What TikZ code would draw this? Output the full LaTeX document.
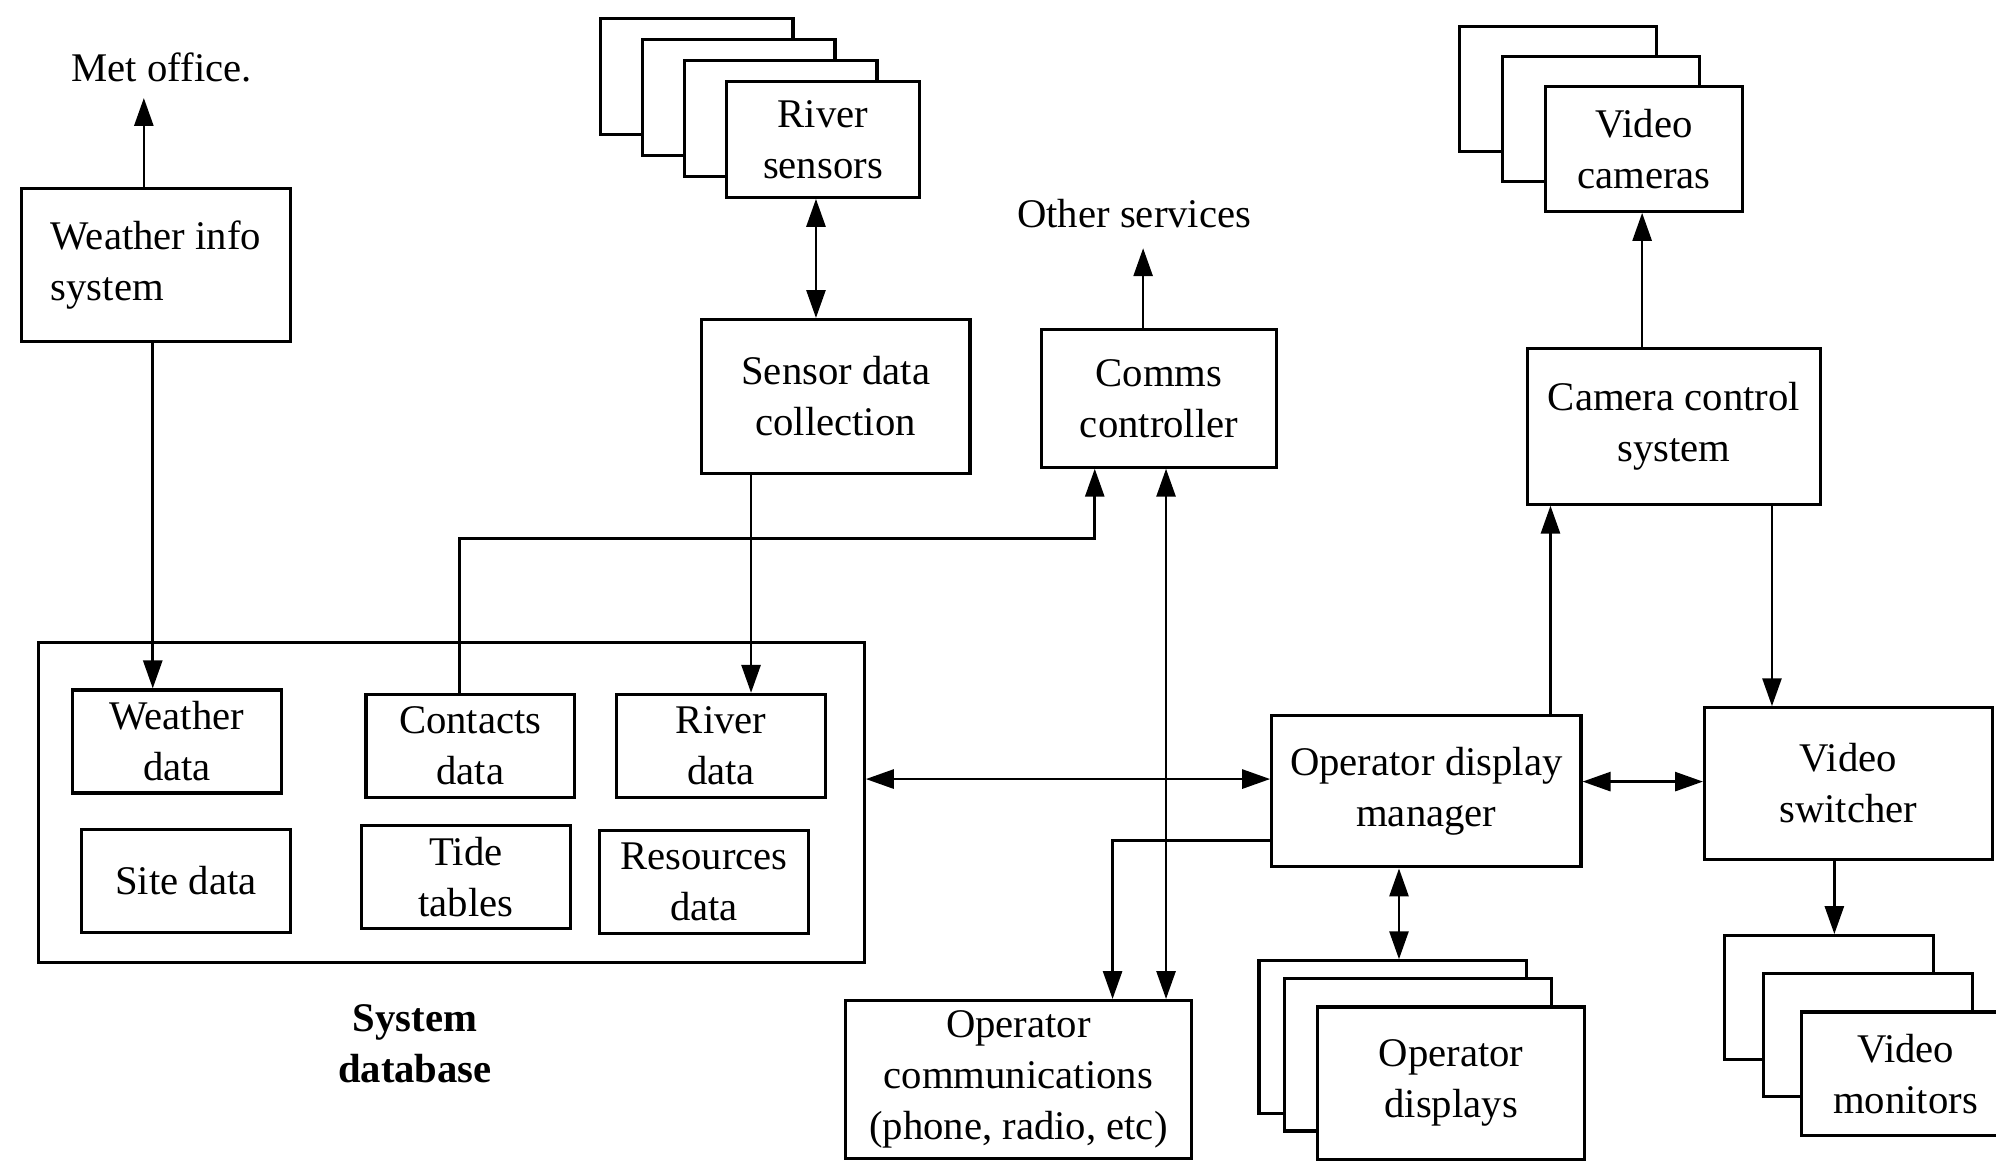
\documentclass[tikz,border=0pt]{standalone}
\usepackage{fontspec}
\setmainfont{Liberation Serif}
\usetikzlibrary{arrows.meta}
\begin{document}
\begin{tikzpicture}[x=0.02cm,y=-0.02cm,
  every node/.style={font=\fontsize{18.2}{22.8}\selectfont},
  box/.style={draw, line width=1.4pt, fill=white, align=center, inner sep=0pt},
  lbl/.style={align=center, inner sep=1pt},
  conn/.style={line width=1.2pt},
  arr/.style={conn, -{Triangle[length=12.5pt,width=8.5pt]}},
  darr/.style={conn, {Triangle[length=12.5pt,width=8.5pt]}-{Triangle[length=12.5pt,width=8.5pt]}},
  rsbox/.style={box, minimum width=3.02cm, minimum height=1.82cm},
  vcbox/.style={box, minimum width=3.1cm, minimum height=1.96cm},
  dbbox/.style={box, minimum width=3.28cm, minimum height=1.62cm},
  odbox/.style={box, minimum width=4.2cm, minimum height=2.4cm},
  vmbox/.style={box, minimum width=3.28cm, minimum height=1.94cm},
]
\useasboundingbox (0,0) rectangle (1568,912);

% column / row helpers
\coordinate (c113) at (113,0);
\coordinate (c120) at (120,0);
\coordinate (c361) at (361,0);
\coordinate (c590) at (590,0);
\coordinate (c641) at (641,0);
\coordinate (c860) at (860,0);
\coordinate (c874) at (874,0);
\coordinate (c898) at (898,0);
\coordinate (c916) at (916,0);
\coordinate (c1099) at (1099,0);
\coordinate (c1218) at (1218,0);
\coordinate (c1290) at (1290,0);
\coordinate (c1392) at (1392,0);
\coordinate (c1441) at (1441,0);
\coordinate (r423) at (0,423);
\coordinate (r612) at (0,612);
\coordinate (r614) at (0,614);
\coordinate (r660) at (0,660);
\coordinate (metin) at (113,77);
\coordinate (othin) at (898,195);

% Weather info system
\node[lbl] (met) at (127,53) {Met office.};
\node[box, minimum width=4.22cm, minimum height=2.4cm, align=left] (wis) at (122.5,208) {Weather info\\system};

% River sensors stack
\node[rsbox] (rs1) at (547.5,60) {};
\node[rsbox] (rs2) at (580.5,76.5) {};
\node[rsbox] (rs3) at (613.5,93) {};
\node[rsbox] (rs) at (646.5,109.5) {River\\sensors};

\node[box, minimum width=4.22cm, minimum height=2.42cm] (sdc) at (656.5,311.5) {Sensor data\\collection};
\node[box, minimum width=3.7cm, minimum height=2.16cm] (cc) at (910.5,313) {Comms\\controller};
\node[lbl] (oth) at (891,168) {Other services};

% Video cameras stack
\node[vcbox] (vc1) at (1224,70) {};
\node[vcbox] (vc2) at (1257.5,93.5) {};
\node[vcbox] (vc) at (1291.5,117) {Video\\cameras};
\node[box, minimum width=4.6cm, minimum height=2.44cm] (ccs) at (1315,335) {Camera control\\system};

% System database
\node[box, minimum width=12.98cm, minimum height=5.02cm] (sdb) at (354.5,630.5) {};
\node[dbbox] (wd) at (139,582.5) {Weather\\data};
\node[dbbox] (cd) at (369.5,586) {Contacts\\data};
\node[dbbox] (rd) at (566.5,586) {River\\data};
\node[dbbox] (sd) at (146,692) {Site data};
\node[dbbox] (tt) at (366,689) {Tide\\tables};
\node[dbbox] (rsd) at (553,692.7) {Resources\\data};
\node[lbl, font=\fontsize{18.2}{22.8}\selectfont\bfseries] (sdbl) at (326,820) {System\\database};

% Operator side
\node[box, minimum width=4.86cm, minimum height=2.38cm] (odm) at (1120.5,621.5) {Operator display\\manager};
\node[box, minimum width=4.52cm, minimum height=2.38cm] (vs) at (1452,615.5) {Video\\switcher};
\node[box, minimum width=5.44cm, minimum height=2.48cm] (oc) at (800,848) {Operator\\communications\\(phone, radio, etc)};

\node[odbox] (od1) at (1094,814.75) {};
\node[odbox] (od2) at (1114,828.5) {};
\node[odbox] (od) at (1140,851) {Operator\\displays};

\node[vmbox] (vm1) at (1437,783.5) {};
\node[vmbox] (vm2) at (1467.5,813) {};
\node[vmbox] (vm) at (1497,843.5) {Video\\monitors};

% Connectors
\draw[arr] (wis.north -| metin) -- (metin);
\draw[arr] (wis.south -| c120) -- (wd.north -| c120);
\draw[darr] (rs.south -| c641) -- (sdc.north -| c641);
\draw[arr] (sdc.south -| c590) -- (rd.north -| c590);
\draw[arr] (cd.north -| c361) -- (c361 |- r423) -- (c860 |- r423) -- (cc.south -| c860);
\draw[arr] (cc.north -| othin) -- (othin);
\draw[darr] (cc.south -| c916) -- (oc.north -| c916);
\draw[darr] (sdb.east |- r612) -- (odm.west |- r612);
\draw[arr] (odm.north -| c1218) -- (ccs.south -| c1218);
\draw[arr] (ccs.north -| c1290) -- (vc.south -| c1290);
\draw[arr] (ccs.south -| c1392) -- (vs.north -| c1392);
\draw[darr] (odm.east |- r614) -- (vs.west |- r614);
\draw[arr] (odm.west |- r660) -| (oc.north -| c874);
\draw[darr] (odm.south -| c1099) -- (od1.north -| c1099);
\draw[arr] (vs.south -| c1441) -- (vm1.north -| c1441);
\end{tikzpicture}
\end{document}
